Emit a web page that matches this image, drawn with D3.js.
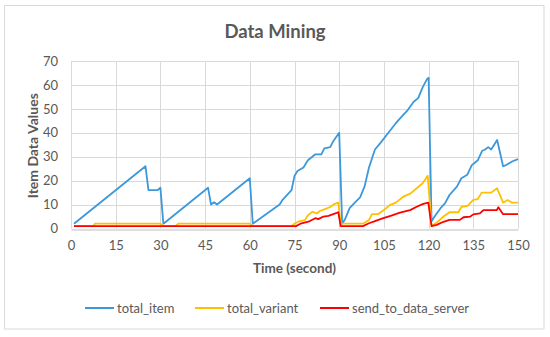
<!DOCTYPE html>
<html>
<head>
<meta charset="utf-8">
<script src="https://cdn.jsdelivr.net/npm/d3@7"></script>
<style>
  html, body { margin: 0; padding: 0; background: #fff; }
  svg { display: block; font-family: Lato, "Open Sans", sans-serif; }
</style>
</head>
<body>
<svg id="chart" width="550" height="337"></svg>
<script>
// ---- data ----
const title = "Data Mining";
const xTitle = "Time (second)";
const yTitle = "Item Data Values";
const xTicks = [0, 15, 30, 45, 60, 75, 90, 105, 120, 135, 150];
const yTicks = [0, 10, 20, 30, 40, 50, 60, 70];
const seriesNames = ["total_item", "total_variant", "send_to_data_server"];
const seriesColors = ["#3D98DA", "#FFC000", "#FF0000"];

const itemTime = [1, 25, 26, 29, 30, 31, 46, 47, 48, 49, 60, 61, 70, 71, 74, 75, 76, 78, 79.5, 82, 84, 85, 87, 88, 90,
  91, 92, 93.5, 95, 97, 98.5, 100, 102, 104, 106.5, 109, 111.5, 113, 115, 116.5, 118, 119.5, 120,
  121, 122, 124, 125.5, 127, 129.5, 131, 133, 134.5, 135.5, 136.5, 138, 139, 140, 141, 143, 145, 146, 148, 150];
const itemValues = [2, 26, 16, 16, 17, 2, 17, 10, 11, 10, 21, 2, 10, 12, 16, 22, 24, 25.5, 28.5, 31, 31, 33.5, 34, 36.5, 40,
  2, 4, 8.5, 10.5, 13, 17.5, 25.5, 33, 36, 40, 44, 47.5, 49.5, 53, 54.5, 59, 62.5, 63,
  3, 5, 8.5, 10.5, 14, 17.5, 21, 22.5, 26.5, 27.5, 28.5, 32.5, 33, 34, 33, 37, 26, 26.5, 28, 29];

const variantTime = [1, 7.5, 8, 30, 31, 35, 36, 60, 61, 74, 75, 76.5, 78.5, 79.5, 81, 82.5, 83.5, 85, 87, 88.5, 89.7,
  90.5, 98, 100, 101, 103, 105, 107, 109, 111.5, 114, 116, 118, 119.7,
  121, 123, 125, 127, 130, 131, 133, 135, 136.5, 137.8, 141, 143, 145, 146.5, 148, 150];
const variantValues = [1, 1, 2, 2, 1, 1, 2, 2, 1, 1, 2, 3, 3.5, 5.5, 7, 6.3, 7.3, 8, 9, 10.3, 10.8,
  2, 2, 3.6, 6, 6, 7.7, 9.8, 10.8, 13.3, 14.7, 16.8, 18.9, 22,
  1, 2.8, 5, 6.8, 6.8, 9, 9.4, 12, 12.3, 15, 15, 16.8, 10.8, 11.9, 10.8, 10.8];

const serverTime = [1, 75.5, 77, 80, 82, 83, 84.7, 86.4, 88, 89.7,
  90.5, 98, 100, 102, 104.8, 107, 110.4, 113.8, 116, 118.2, 119.9,
  121, 122.7, 125, 127, 130.5, 131.7, 134, 135, 137.2, 138.4, 142.9, 143.4, 145, 150];
const serverValues = [1, 1, 2, 3, 4.3, 3.9, 5, 5.3, 6, 6.8,
  1, 1, 2.2, 3.1, 4.3, 5.2, 6.6, 7.7, 9.1, 10.3, 10.8,
  1, 1.5, 2.8, 3.6, 3.6, 4.7, 5, 5.9, 6.3, 7.7, 7.7, 8.9, 6, 6];

const seriesData = [
  itemTime.map((t, i) => [t, itemValues[i]]),
  variantTime.map((t, i) => [t, variantValues[i]]),
  serverTime.map((t, i) => [t, serverValues[i]])
];

// ---- layout ----
const svg = d3.select("#chart");
const plot = { left: 71, right: 518, top: 61, bottom: 228.5 };
const x = d3.scaleLinear().domain([0, 150]).range([plot.left, plot.right]);
const y = d3.scaleLinear().domain([0, 70]).range([plot.bottom, plot.top]);
const textColor = "#595959";

// outer border
svg.append("rect").attr("x", 4.5).attr("y", 5.5).attr("width", 539.5).attr("height", 323.5)
  .attr("fill", "#fff").attr("stroke", "#D9D9D9").attr("stroke-width", 1);

// title
svg.append("text").attr("x", 275).attr("y", 38).attr("text-anchor", "middle")
  .attr("font-size", 18.5).attr("font-weight", "bold").attr("fill", textColor).text(title);

// horizontal gridlines
svg.append("g").selectAll("line").data(yTicks.filter(d => d > 0)).join("line")
  .attr("x1", plot.left).attr("x2", plot.right)
  .attr("y1", d => Math.round(y(d)) + 0.5).attr("y2", d => Math.round(y(d)) + 0.5)
  .attr("stroke", "#D9D9D9").attr("stroke-width", 1);
// vertical gridlines
svg.append("g").selectAll("line").data(xTicks).join("line")
  .attr("x1", d => Math.round(x(d)) + 0.5).attr("x2", d => Math.round(x(d)) + 0.5)
  .attr("y1", plot.top).attr("y2", plot.bottom)
  .attr("stroke", "#D9D9D9").attr("stroke-width", 1);

// axes (D3 axes, styled to Excel look)
const xAxis = svg.append("g").attr("transform", `translate(0,${Math.round(plot.bottom) + 0.5})`)
  .call(d3.axisBottom(x).tickValues(xTicks).tickSize(0).tickPadding(11));
xAxis.select(".domain").attr("stroke", "#BFBFBF");
xAxis.selectAll("text").attr("font-size", 13).attr("fill", textColor).attr("font-family", "Lato, sans-serif");

const yAxis = svg.append("g").attr("transform", `translate(${plot.left},0)`)
  .call(d3.axisLeft(y).tickValues(yTicks).tickSize(0).tickPadding(13));
yAxis.select(".domain").remove();
yAxis.selectAll("text").attr("font-size", 13).attr("fill", textColor).attr("font-family", "Lato, sans-serif");

// axis titles
svg.append("text").attr("x", (plot.left + plot.right) / 2).attr("y", 273).attr("text-anchor", "middle")
  .attr("font-size", 13.5).attr("font-weight", "bold").attr("fill", textColor).text(xTitle);
svg.append("text").attr("transform", `translate(38,${(plot.top + plot.bottom) / 2 + 1}) rotate(-90)`)
  .attr("text-anchor", "middle").attr("font-size", 14).attr("font-weight", "bold")
  .attr("fill", textColor).text(yTitle);

// lines
const line = d3.line().x(d => x(d[0])).y(d => y(d[1]));
svg.append("g").selectAll("path").data(seriesData).join("path")
  .attr("d", line).attr("fill", "none")
  .attr("stroke", (d, i) => seriesColors[i]).attr("stroke-width", 1.8)
  .attr("stroke-linejoin", "round");

// legend
const legendX = [85, 195, 320];
const lg = svg.append("g").selectAll("g").data(seriesNames).join("g")
  .attr("transform", (d, i) => `translate(${legendX[i]},308)`);
lg.append("line").attr("x1", 0).attr("x2", 29).attr("y1", 0).attr("y2", 0)
  .attr("stroke", (d, i) => seriesColors[i]).attr("stroke-width", 2);
lg.append("text").attr("x", 32).attr("y", 4.5).attr("font-size", 13).attr("fill", textColor).text(d => d);
</script>
</body>
</html>
